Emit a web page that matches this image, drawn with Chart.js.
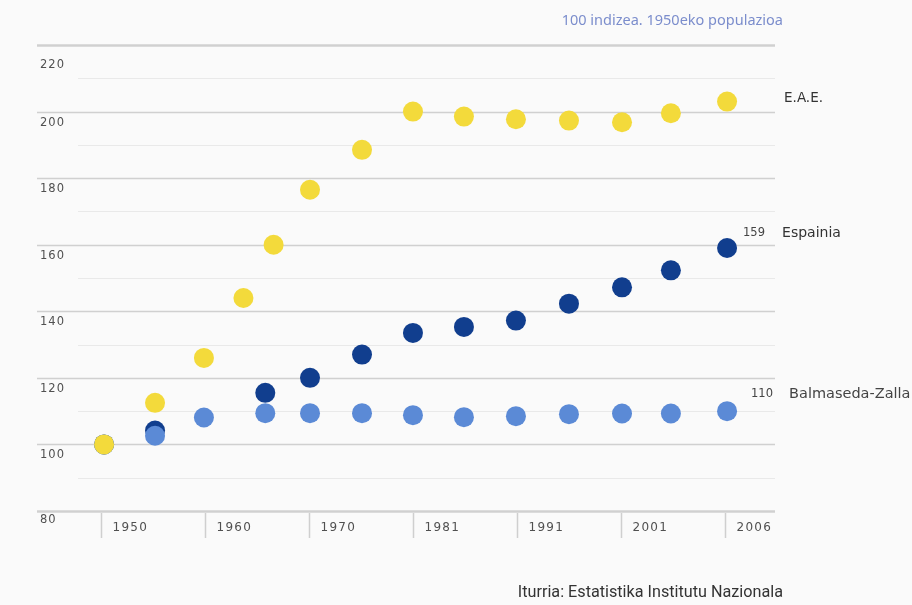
<!DOCTYPE html>
<html>
<head>
<meta charset="utf-8">
<script src="https://cdn.jsdelivr.net/npm/chart.js@4.4.1/dist/chart.umd.min.js"></script>
<style>
html,body{margin:0;padding:0;background:#fafafa;}
#wrap{position:relative;width:912px;height:605px;}
canvas{display:block;}
</style>
</head>
<body>
<div id="wrap"><canvas id="c" width="912" height="605"></canvas></div>
<script>
// Axis tick labels (equally spaced positions 0..6)
const xTickLabels = ['1950','1960','1970','1981','1991','2001','2006'];
const yTickValues = [80,100,120,140,160,180,200,220];

// Series: x = position on the (equally spaced) year axis, y = index (1950 = 100)
const eaeX   = [0.03, 0.52, 0.99, 1.37, 1.66, 2.01, 2.51, 3.0, 3.49, 3.99, 4.5, 5.01, 5.48, 6.02];
const eaeY   = [100, 112.5, 126, 144, 160, 176.5, 188.5, 200, 198.5, 197.7, 197.3, 196.8, 199.5, 203];

const espX   = [0.03, 0.52, 1.58, 2.01, 2.51, 3.0, 3.49, 3.99, 4.5, 5.01, 5.48, 6.02];
const espY   = [100, 104.2, 115.5, 120, 127, 133.5, 135.3, 137.2, 142.3, 147.2, 152.3, 159];

const balX   = [0.03, 0.52, 0.99, 1.58, 2.01, 2.51, 3.0, 3.49, 3.99, 4.5, 5.01, 5.48, 6.02];
const balY   = [100, 102.6, 108.1, 109.4, 109.4, 109.4, 108.8, 108.2, 108.5, 109.1, 109.3, 109.3, 110];

const seriesNames = ['E.A.E.', 'Espainia', 'Balmaseda-Zalla'];
const lastLabels = ['', '159', '110'];

function pts(xs, ys){ return xs.map((x,i)=>({x:x, y:ys[i]})); }

const FONT = '"DejaVu Sans", sans-serif';

const decor = {
  id:'decor',
  beforeDatasetsDraw(chart){
    const ctx = chart.ctx, xs = chart.scales.x, ys = chart.scales.y, a = chart.chartArea;
    ctx.save();
    // gridlines every 10
    for(let v=80; v<=220; v+=10){
      const y = Math.round(ys.getPixelForValue(v)) + 0.5;
      const major = v % 20 === 0;
      ctx.beginPath();
      ctx.strokeStyle = major ? '#d0d0d0' : '#e9e9e9';
      ctx.lineWidth = (v===80 || v===220) ? 2.5 : (major ? 1.6 : 1.2);
      ctx.moveTo(major ? a.left : a.left + 41, y);
      ctx.lineTo(a.right, y);
      ctx.stroke();
    }
    // y labels under their gridlines
    ctx.fillStyle = '#505050';
    ctx.font = '11.5px ' + FONT;
    ctx.textAlign = 'left';
    ctx.textBaseline = 'middle';
    try{ ctx.letterSpacing = '1px'; }catch(e){}
    yTickValues.forEach(v=>{
      const y = ys.getPixelForValue(v);
      const off = v===80 ? 9 : (v===220 ? 20 : 11);
      ctx.fillText(String(v), a.left + 3, y + off);
    });
    // x separators and labels
    ctx.font = '12px ' + FONT;
    try{ ctx.letterSpacing = '1.3px'; }catch(e){}
    xTickLabels.forEach((lab,i)=>{
      const x = Math.round(xs.getPixelForValue(i)) + 0.5;
      ctx.beginPath();
      ctx.strokeStyle = '#cfcfcf';
      ctx.lineWidth = 1.5;
      ctx.moveTo(x, a.bottom + 2);
      ctx.lineTo(x, a.bottom + 27);
      ctx.stroke();
      ctx.fillStyle = '#505050';
      ctx.fillText(lab, x + 11, a.bottom + 17);
    });
    try{ ctx.letterSpacing = '0px'; }catch(e){}
    ctx.restore();
  },
  afterDatasetsDraw(chart){
    const ctx = chart.ctx;
    ctx.save();
    ctx.textBaseline = 'middle';
    ctx.textAlign = 'left';
    // end labels
    const m0 = chart.getDatasetMeta(0).data, m1 = chart.getDatasetMeta(1).data, m2 = chart.getDatasetMeta(2).data;
    const pE = m0[m0.length-1], pB = m1[m1.length-1], pS = m2[m2.length-1];
    ctx.fillStyle = '#333';
    ctx.font = '13.5px ' + FONT;
    ctx.fillText(seriesNames[0], pE.x + 57, pE.y - 3);
    // Espainia
    ctx.font = '11.5px ' + FONT;
    ctx.fillStyle = '#444';
    ctx.fillText(lastLabels[1], pS.x + 16, pS.y - 15);
    ctx.font = '14px ' + FONT;
    ctx.fillStyle = '#333';
    ctx.fillText(seriesNames[1], pS.x + 55, pS.y - 15);
    // Balmaseda
    ctx.font = '11.5px ' + FONT;
    ctx.fillStyle = '#444';
    ctx.fillText(lastLabels[2], pB.x + 24, pB.y - 17);
    ctx.font = '14.5px ' + FONT;
    ctx.fillStyle = '#444';
    ctx.fillText(seriesNames[2], pB.x + 62, pB.y - 17);
    // subtitle
    ctx.textAlign = 'right';
    ctx.font = '14.5px "Noto Sans", sans-serif';
    ctx.fillStyle = '#7b8dcc';
    ctx.fillText('100 indizea. 1950eko populazioa', 783, 21);
    // source
    ctx.font = '16.2px "Liberation Sans Narrow", "Roboto", sans-serif';
    ctx.fillStyle = '#333';
    ctx.fillText('Iturria: Estatistika Institutu Nazionala', 783, 593);
    ctx.restore();
  }
};

new Chart(document.getElementById('c'), {
  type:'scatter',
  data:{
    datasets:[
      {label:seriesNames[0], data:pts(eaeX,eaeY), backgroundColor:'#f3da3b', borderColor:'#f3da3b', pointRadius:10, pointBorderWidth:0, clip:false},
      {label:seriesNames[2], data:pts(balX,balY), backgroundColor:'#5b8ad6', borderColor:'#5b8ad6', pointRadius:10, pointBorderWidth:0, clip:false},
      {label:seriesNames[1], data:pts(espX,espY), backgroundColor:'#113e8e', borderColor:'#113e8e', pointRadius:10, pointBorderWidth:0, clip:false}
    ]
  },
  options:{
    responsive:false,
    animation:false,
    layout:{padding:{left:37, right:137, top:45, bottom:94}},
    plugins:{legend:{display:false}, tooltip:{enabled:false}},
    scales:{
      x:{type:'linear', display:false, min:-0.615, max:6.481},
      y:{type:'linear', display:false, min:80, max:220}
    }
  },
  plugins:[decor]
});
</script>
</body>
</html>
